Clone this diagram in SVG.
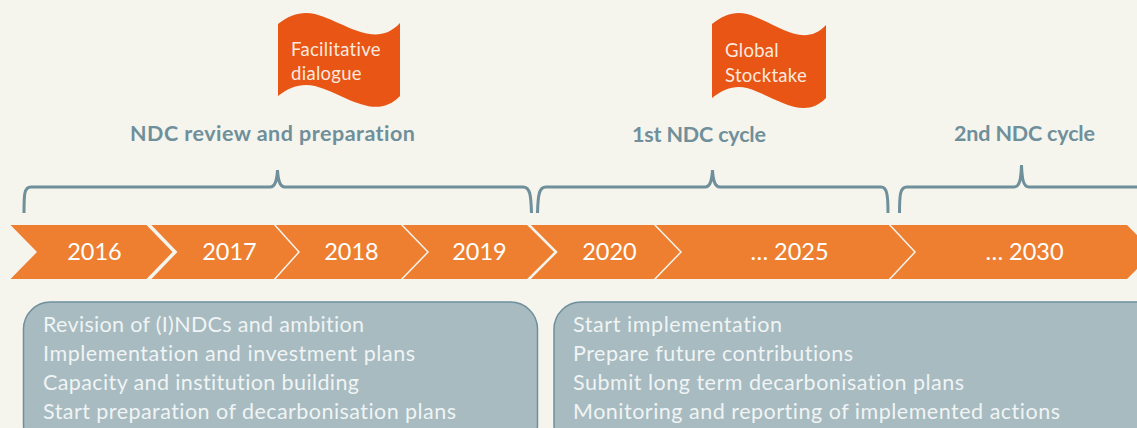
<svg xmlns="http://www.w3.org/2000/svg" width="1137" height="428" viewBox="0 0 1137 428">
<style>
text{font-family:Lato,"Liberation Sans",sans-serif;font-variant-ligatures:none}
.flag{fill:#e95514}
.ft{fill:#fbe9df;font-size:18.500px;letter-spacing:.3px}
.head{fill:#6f8f9b;font-size:21.500px;font-weight:700;text-anchor:middle}
.bar{fill:#ee7f31}
.div{fill:none;stroke:#f5f4ed;stroke-linejoin:miter}
.year{fill:#fff;font-size:23.500px;text-anchor:middle}
.brace{fill:none;stroke:#6f8f9b;stroke-width:3}
.box{fill:#a7bbc1;stroke:#6f8f9b;stroke-width:1.500}
.bt{fill:#f0f4f4;font-size:21.500px}
</style>
<rect width="1137" height="428" fill="#f5f4ed"/>
<g id="timeline">
<path class="bar" d="M10.500 225H1127L1154 252L1127 279H10.500L37 252Z"/>
<path class="div" stroke-width="3.500" d="M147 223L175 252L147 281"/>
<path class="div" stroke-width="1.500" d="M273 223L299 252L273 281"/>
<path class="div" stroke-width="1.500" d="M400 223L428 252L400 281"/>
<path class="div" stroke-width="2.500" d="M527 223L556 252L527 281"/>
<path class="div" stroke-width="1.500" d="M653 223L681 252L653 281"/>
<path class="div" stroke-width="1.500" d="M888 223L915 252L888 281"/>
</g>
<g id="y2016"><text class="year" x="94.500" y="260">2016</text></g>
<g id="y2017"><text class="year" x="229.500" y="260">2017</text></g>
<g id="y2018"><text class="year" x="351.500" y="260">2018</text></g>
<g id="y2019"><text class="year" x="479.500" y="260">2019</text></g>
<g id="y2020"><text class="year" x="609.500" y="260">2020</text></g>
<g id="y2025"><text class="year" x="789.500" y="260">… 2025</text></g>
<g id="y2030"><text class="year" x="1024.500" y="260">… 2030</text></g>
<g id="connectors">
<path class="brace" d="M24 213C24 195 24 187 31 187H270C276 187 277 178 277.500 170C278 178 279 187 285 187H523C530 187 531 195 531.500 213"/>
<path class="brace" d="M537.500 213C538 195 539 187 546 187H705C711 187 712 178 712.500 170C713 178 714 187 720 187H881C887 187 888 195 888 213"/>
<path class="brace" d="M899.500 213C899.500 195 900 187 907 187H1014C1020 187 1021 178 1021.500 165C1022 178 1023 187 1029 187H1137"/>
</g>
<g id="flag1">
<path class="flag" d="M278 24C290 14 303 11 315 14C345 22 375 50 400 23V96C375 122 345 94 315 86C303 83 290 86 278 96Z"/>
<text class="ft" x="291" y="56">Facilitative</text>
<text class="ft" x="291" y="80">dialogue</text>
</g>
<g id="flag2">
<path class="flag" d="M712 24C724 14 736 11 747 14C775 22 803 50 826 25V98C803 122 775 96 747 88C736 85 724 88 712 98Z"/>
<text class="ft" x="725" y="57">Global</text>
<text class="ft" x="725" y="82">Stocktake</text>
</g>
<g id="head1"><text class="head" x="272.500" y="141" textLength="285">NDC review and preparation</text></g>
<g id="head2"><text class="head" x="699" y="142" textLength="134">1st NDC cycle</text></g>
<g id="head3"><text class="head" x="1024.500" y="141" textLength="141">2nd NDC cycle</text></g>
<g id="box1">
<rect class="box" x="23.500" y="302" width="514" height="150" rx="27"/>
<text class="bt" x="43" y="332" textLength="321">Revision of (I)NDCs and ambition</text>
<text class="bt" x="43" y="361" textLength="372">Implementation and investment plans</text>
<text class="bt" x="43" y="390" textLength="316">Capacity and institution building</text>
<text class="bt" x="43" y="419" textLength="413">Start preparation of decarbonisation plans</text>
</g>
<g id="box2">
<rect class="box" x="554" y="302" width="620" height="150" rx="27"/>
<text class="bt" x="573" y="332" textLength="209">Start implementation</text>
<text class="bt" x="573" y="361" textLength="280">Prepare future contributions</text>
<text class="bt" x="573" y="390" textLength="391">Submit long term decarbonisation plans</text>
<text class="bt" x="573" y="419" textLength="487">Monitoring and reporting of implemented actions</text>
</g>
</svg>
